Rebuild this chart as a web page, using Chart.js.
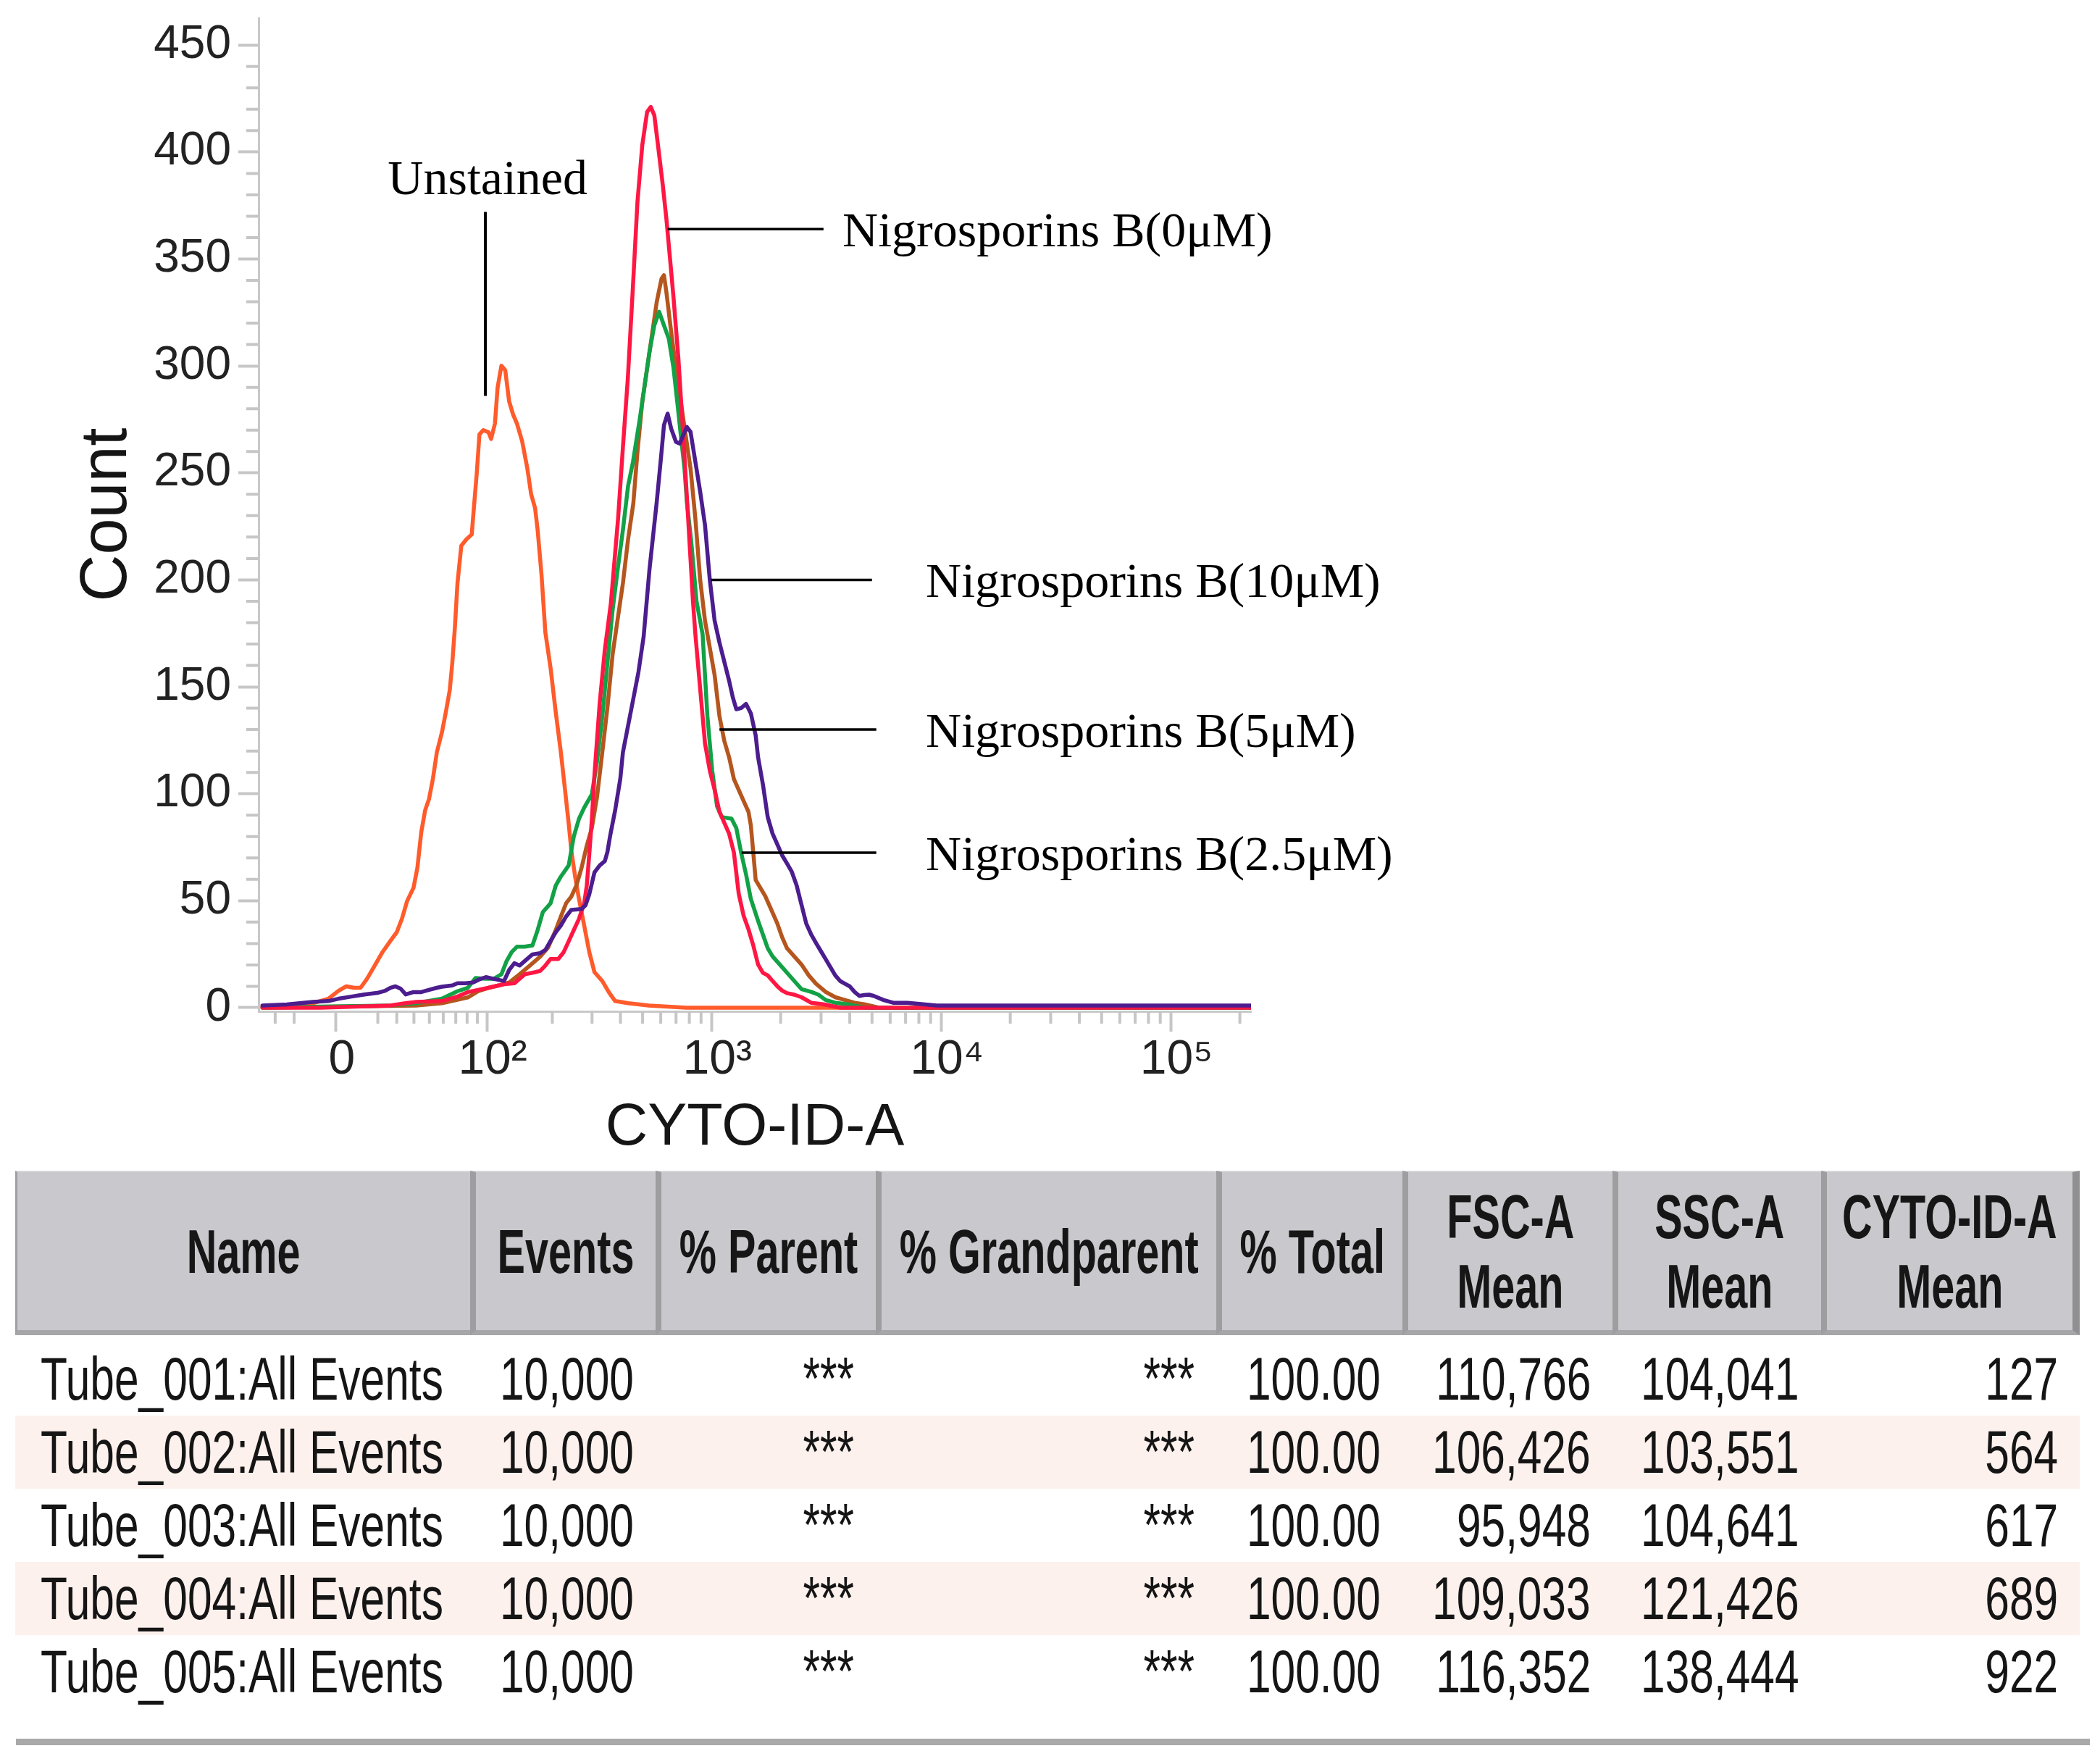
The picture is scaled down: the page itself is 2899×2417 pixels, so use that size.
<!DOCTYPE html>
<html>
<head>
<meta charset="utf-8">
<script src="https://cdn.jsdelivr.net/npm/chart.js@4.4.1/dist/chart.umd.min.js"></script>
<style>
html,body{margin:0;padding:0;background:#fff;}
body{width:2899px;height:2417px;position:relative;overflow:hidden;font-family:'Liberation Sans',Arial,sans-serif;}
#chartBox{position:absolute;left:0;top:0;width:2899px;height:1620px;}
#tbl{position:absolute;left:21px;top:1616px;width:2850px;display:grid;
  grid-template-columns:628px 256px 304px 470px 257px 290px 288px 357px;}
.h{background:#c9c8cc;height:227px;box-sizing:border-box;border-left:8px solid #9e9ea0;
  border-top:2px solid #d6d6d8;border-bottom:7px solid #a6a6a8;display:flex;flex-direction:column;
  align-items:center;justify-content:center;font-weight:bold;font-size:86px;line-height:96px;
  color:#161616;white-space:nowrap;overflow:visible;}
.h.first{border-left:3px solid #a0a0a2;}
.h.last{border-right:10px solid #909092;}
.h span{display:block;transform:scaleX(0.67);transform-origin:center center;}
.gap{grid-column:1 / -1;height:10px;}
.c{height:101px;box-sizing:border-box;display:flex;align-items:center;justify-content:flex-end;
  padding-right:30px;font-size:84px;color:#151515;white-space:nowrap;overflow:visible;}
.c span{display:block;transform:scaleX(0.72);transform-origin:right center;}
.c.name{justify-content:flex-start;padding-left:35px;padding-right:0;}
.c.name span{transform-origin:left center;}
.c.alt{background:#fdf1ed;}
#bottomLine{position:absolute;left:22px;top:2400px;width:2863px;height:9px;background:#a9a9a9;}
</style>
</head>
<body>
<div id="chartBox"><canvas id="c" width="2899" height="1620" style="width:2899px;height:1620px"></canvas></div>
<div id="tbl"></div>
<div id="bottomLine"></div>
<script>
// ---------- chart data (x in histogram channels, y in counts) ----------
const unstainedCh = [0,30,52.2,68.3,79,87,95.1,101.8,108.5,116.5,124.6,132.7,139.4,144.7,150.1,156.8,160.8,164.8,168.9,172.9,176.9,181,186.3,190.3,194.4,197,199.7,202.4,206.4,211.8,217.2,219.8,222.5,225.2,229.2,234.6,237.3,241.3,244,248,252,256,260.1,264.1,269.5,274.8,278.9,282.9,285.6,289.6,293.6,299,304.4,309.7,313.8,317.8,320.5,324.5,328.5,333.9,339.2,344.6,352.7,359.4,366,379.5,401,440,1026];
const unstainedCount = [0.5,1,2.1,4.2,7.9,10,9.3,9.3,13.5,19.7,26,31.2,35.3,41.5,49.8,56.1,65.4,82,92.4,97.6,107,119.4,128.8,138.1,148.5,161,177.6,198.4,216,219,221.2,235.7,250.3,268,270,269,265.9,273.1,289.7,300.1,298,283.5,277.3,273.1,264.8,252.4,239.9,233.7,223.3,202.5,175.5,158.9,138.1,119.4,102.8,86.2,73.7,61.3,50.9,38.4,26,16.6,12.5,7.3,3.1,2.1,1,0,0];

const dose0Ch = [0,60,132.7,148.7,159.5,186.3,202.4,213.1,223.9,234.6,250.7,261.4,266.8,272.2,282.9,288.3,293.6,299,307,312.4,317.8,323.1,328.5,333.9,336.6,339.2,341.9,344.6,347.3,350,355.3,361.6,369.1,374.1,379.2,384.2,389.2,394.2,399.2,403,406.7,410.5,415.5,419.2,423,426.7,431.7,436.7,441.8,446.8,449.3,451.8,454.3,456.8,459.3,464.3,469.3,474.3,479.3,484.3,489.3,494.3,499.3,504.4,509.4,514.4,519.4,524.4,529.4,534.4,539.4,544.4,551.9,559.4,569.5,582,600,1026];
const dose0Count = [0,0,1,2.1,2.7,3.1,5.2,7.3,8.3,9.3,11,11.4,13.5,15.6,16.6,17.2,19.7,22.8,22.8,25.8,31,36.3,41.5,48.8,57.1,71.7,88.3,109.1,125.7,142.3,167.2,189,228.7,262,294.1,334.6,376.7,403.2,418.7,421.1,417.2,403.2,384.5,368.9,350.2,331.5,303.4,267.6,228.7,190,174.6,161.8,149,136.3,123.5,110.8,101.8,91.6,86.5,81.4,72.5,53.3,43.1,36.7,29.1,20.2,16.3,15.1,12.5,10,8,6.8,6.1,4.9,2.3,1.6,0,0];

const dose25Ch = [0,60,132.7,159.5,186.3,202.4,213.1,221.2,231.9,240,248,253.4,258.7,264.1,272.2,280.2,285.6,291,299,304.4,309.7,317.8,323.1,328.5,333.9,341.9,347.3,352.7,358,363.4,368.7,374.1,379.5,384.5,391.7,396.7,401.7,406.7,411.7,416.7,421.7,426.7,430.5,434.2,438,440.5,445,450.5,456.8,459.3,461.8,464.3,466.8,471.8,476.8,486.8,491.8,496.8,501.9,506.9,514.4,519.4,524.4,529.4,539.4,549.4,559.4,569.5,577,584.5,594.5,607,625,1026];
const dose25Count = [0,0.5,1,2.1,4.2,7.7,9.3,13.9,13.5,13.5,15.6,21.8,26,28.5,28.5,29.1,36.3,44.7,48.8,57.1,61.3,66.5,80,88.3,93.5,99.8,115.3,136.1,161,185.9,205,223.3,244,255,275.4,291,306.6,319,325.3,319,312.8,298.8,283.2,267.6,252,236.4,218,190,174.6,155.4,136.3,123.5,110.8,94.2,89.1,88.4,84,72.5,62.3,50.8,40.6,34.2,27.8,24,18.9,13.8,8.7,7.4,6.1,3.6,2.3,1.6,0,0];

const dose5Ch = [0,80,159.5,186.3,213.1,223.9,234.6,245.3,256.1,266.8,277.5,288.3,296.3,304.4,309.7,315.1,320.5,325.8,331.2,336.6,341.9,347.3,352.7,358,363.4,368.7,374.1,379.5,384.9,389.2,394.2,399.2,404.2,409.2,414.2,416.7,419.2,424.2,429.2,434.2,439.2,444.3,449.3,454.3,459.3,464.3,469.3,474.3,479.3,484.3,489.3,494.3,499.3,504.4,506.9,509.4,511.9,516.9,521.9,526.9,534.4,539.4,544.4,551.9,559.4,567,574.5,584.5,594.5,604.5,614.5,624.5,640,1026];
const dose5Count = [0,0.5,1,2.1,4.8,7.7,9.3,10.4,11.8,15.6,19.7,23.9,28,36.3,42.6,48.8,51.9,57.1,65.4,75.8,84.1,98.7,119.4,140.2,165.1,181.7,198.4,219.1,235.7,259.8,283.2,298.8,314.3,329.9,340.8,342.4,334.6,315.9,298.8,283.2,267.6,252,228.7,200,180.9,168.2,155.4,136.3,124.8,117.1,106.9,101.8,96.7,91.6,85.2,72.5,59.7,55.9,52.1,47,39.3,32.9,27.8,24,20.2,15.1,11.2,7.4,4.9,3.6,2.3,1.6,0,0];

const dose10Ch = [0,25.3,52.2,68.3,79,92.4,105.8,119.2,127.3,132.7,138,143.4,148.7,156.8,164.8,172.9,181,186.3,197,202.4,210.5,218.5,226.6,231.9,240,250.7,256.1,261.4,266.8,272.2,280.2,288.3,293.6,299,304.4,309.7,315.1,320.5,331.2,335.2,339.2,344.6,350,355.3,358,360.7,366.1,371.4,374.1,379.5,384.9,390.2,395.6,401.7,409.2,414.2,416.7,420.5,424.2,429.2,433,436.7,440.5,444.3,449.3,454.3,459.3,464.3,469.3,474.3,479.3,484.3,488.1,491.8,496.8,501.9,506.9,511.9,514.4,519.4,524.4,529.4,534.4,539.4,544.4,549.4,554.4,559.4,564.4,569.5,574.5,579.5,584.5,589.5,594.5,599.5,604.5,609.5,614.5,619.5,624.5,629.5,634.5,644.6,654.6,669.6,700,1026];
const dose10Count = [1,1.5,2.7,3.1,4.2,5.2,6.2,6.9,7.9,9.3,10,8.9,6.2,7.3,7.3,8.3,9.3,9.8,10.4,11.4,11.4,11.8,13.5,14.3,13.5,12.5,17.7,20.8,19.7,21.8,24.9,25.5,27,31.2,35.3,38.4,42.6,45.7,46.1,47.8,53,63.3,66.5,68.5,72.7,80,92.4,107,119.4,131.9,144.4,156.8,173.4,205,236.4,259.8,272.3,277.7,270.7,264.5,263.7,267.6,271.5,269.2,255.2,241.2,225.6,200,180.9,170.7,161.8,152.9,145.2,139.5,140.1,142,137.6,127.3,117.1,104.4,89.1,81.4,76.3,71.2,67.4,63.5,57.2,48.2,39.3,34.2,30.3,26.5,22.7,18.9,15.1,12.5,11.2,10,7.4,5.5,5.9,6.1,5.5,3.6,2.3,2.3,1,1];

// axis ticks (CYTO-ID-A intensity values, biexponential display)
const xTickValues = [0, 100, 1000, 10000, 100000];
const xTickLabels = ['0', '10²', '10³', '10⁴', '10⁵'];
const xMinorValues = [-30,-20,20,30,40,50,60,70,80,90,200,300,400,500,600,700,800,900,2000,3000,4000,5000,6000,7000,8000,9000,20000,30000,40000,50000,60000,70000,80000,90000,200000];
const yTickValues = [0,50,100,150,200,250,300,350,400,450];
const yMinorValues = [10,20,30,40,60,70,80,90,110,120,130,140,160,170,180,190,210,220,230,240,260,270,280,290,310,320,330,340,360,370,380,390,410,420,430,440];

// annotations
const leaderLabels = ['Nigrosporins B(0μM)', 'Nigrosporins B(10μM)', 'Nigrosporins B(5μM)', 'Nigrosporins B(2.5μM)'];
const leaderStartCh = [420.5, 465.5, 474.3, 497.3];
const leaderEndCh = [582.3, 632.6, 637.1, 637.1];
const leaderTextCh = [602, 688.5, 688.5, 688.5];
const leaderCount = [364, 200, 130, 72.5];
const unstainedLabel = 'Unstained';
const unstainedLabelCh = 233.7;
const unstainedLabelCount = 380.4;
const unstainedLeaderCh = 231.4;
const unstainedLeaderCounts = [286, 372];

// table data
const headerLabels = [['Name'], ['Events'], ['% Parent'], ['% Grandparent'], ['% Total'], ['FSC-A', 'Mean'], ['SSC-A', 'Mean'], ['CYTO-ID-A', 'Mean']];
const tubeNames = ['Tube_001:All Events', 'Tube_002:All Events', 'Tube_003:All Events', 'Tube_004:All Events', 'Tube_005:All Events'];
const tubeEvents = ['10,000', '10,000', '10,000', '10,000', '10,000'];
const tubeParent = ['***', '***', '***', '***', '***'];
const tubeGrandparent = ['***', '***', '***', '***', '***'];
const tubeTotal = ['100.00', '100.00', '100.00', '100.00', '100.00'];
const fscMean = ['110,766', '106,426', '95,948', '109,033', '116,352'];
const sscMean = ['104,041', '103,551', '104,641', '121,426', '138,444'];
const cytoMean = ['127', '564', '617', '689', '922'];

// ---------- biexponential (arcsinh) channel transform ----------
const ZERO_CH = 76.3, A_CH = 103.5, C_W = 46.3;
function biex(v) { return ZERO_CH + A_CH * Math.asinh(v / C_W); }

const pts = (xs, ys) => xs.map((x, i) => ({x: x, y: ys[i]}));

const AXIS_FONT = "'Liberation Sans', Arial, sans-serif";
const TITLE_FONT = "'Liberation Sans', Arial, sans-serif";
const SERIF = "'Liberation Serif', 'Times New Roman', serif";

const decor = {
  id: 'decor',
  afterDraw(chart) {
    const {ctx, chartArea: a, scales: {x, y}} = chart;
    ctx.save();
    // minor ticks
    ctx.strokeStyle = '#c6c6c6';
    ctx.lineWidth = 4;
    ctx.beginPath();
    xMinorValues.forEach(v => {
      const px = x.getPixelForValue(biex(v));
      ctx.moveTo(px, a.bottom); ctx.lineTo(px, a.bottom + 17);
    });
    yMinorValues.forEach(v => {
      const py = y.getPixelForValue(v);
      ctx.moveTo(a.left, py); ctx.lineTo(a.left - 17, py);
    });
    ctx.stroke();
    // leader lines
    ctx.strokeStyle = '#000';
    ctx.lineWidth = 3.5;
    ctx.beginPath();
    leaderLabels.forEach((t, i) => {
      const py = y.getPixelForValue(leaderCount[i]);
      ctx.moveTo(x.getPixelForValue(leaderStartCh[i]), py);
      ctx.lineTo(x.getPixelForValue(leaderEndCh[i]), py);
    });
    ctx.stroke();
    ctx.lineWidth = 4;
    ctx.beginPath();
    const ux = x.getPixelForValue(unstainedLeaderCh);
    ctx.moveTo(ux, y.getPixelForValue(unstainedLeaderCounts[0]));
    ctx.lineTo(ux, y.getPixelForValue(unstainedLeaderCounts[1]));
    ctx.stroke();
    // labels
    ctx.fillStyle = '#000';
    ctx.font = '68px ' + SERIF;
    ctx.textBaseline = 'alphabetic';
    ctx.textAlign = 'left';
    leaderLabels.forEach((t, i) => {
      ctx.fillText(t, x.getPixelForValue(leaderTextCh[i]), y.getPixelForValue(leaderCount[i]) + 24);
    });
    ctx.textAlign = 'center';
    ctx.fillText(unstainedLabel, x.getPixelForValue(unstainedLabelCh), y.getPixelForValue(unstainedLabelCount));
    ctx.restore();
  }
};

const lineDs = (label, xs, ys, color, order) => ({
  label: label, data: pts(xs, ys), borderColor: color, backgroundColor: color,
  borderWidth: 5.5, pointRadius: 0, tension: 0, fill: false, order: order
});

new Chart(document.getElementById('c'), {
  type: 'line',
  data: {
    datasets: [
      lineDs('Nigrosporins B(10μM)', dose10Ch, dose10Count, '#4B1D8E', 0),
      lineDs('Nigrosporins B(0μM)', dose0Ch, dose0Count, '#FF1744', 1),
      lineDs('Nigrosporins B(2.5μM)', dose25Ch, dose25Count, '#12A146', 2),
      lineDs('Nigrosporins B(5μM)', dose5Ch, dose5Count, '#B5561E', 3),
      lineDs('Unstained', unstainedCh, unstainedCount, '#FF5B2B', 4)
    ]
  },
  options: {
    responsive: false,
    devicePixelRatio: 1,
    animation: false,
    layout: {padding: {left: 0, top: 25, right: 1172, bottom: 0}},
    plugins: {legend: {display: false}, tooltip: {enabled: false}},
    elements: {line: {borderJoinStyle: 'round', borderCapStyle: 'round'}},
    scales: {
      x: {
        type: 'linear', min: -4, max: 1026,
        afterBuildTicks(s) { s.ticks = xTickValues.map(v => ({value: biex(v)})); },
        afterFit(s) { s.height = 224; s.paddingLeft = 0; s.paddingRight = 0; },
        ticks: {
          autoSkip: false, maxRotation: 0, minRotation: 0, padding: 0, color: '#222',
          labelOffset: 8,
          font: {family: AXIS_FONT, size: 66, lineHeight: 1.2},
          callback: (v, i) => xTickLabels[i]
        },
        grid: {drawOnChartArea: false, drawTicks: true, tickLength: 28, tickWidth: 4, tickColor: '#c6c6c6'},
        border: {display: true, color: '#c8c8c8', width: 3},
        title: {display: true, text: 'CYTO-ID-A', color: '#151515',
          font: {family: TITLE_FONT, size: 81, lineHeight: 1.2}, padding: {top: 0, bottom: 14}}
      },
      y: {
        type: 'linear', min: -1.7, max: 462.6,
        afterBuildTicks(s) { s.ticks = yTickValues.map(v => ({value: v})); },
        afterFit(s) { s.width = 357; s.paddingTop = 0; s.paddingBottom = 0; },
        ticks: {
          padding: 10, color: '#222',
          font: {family: AXIS_FONT, size: 64, lineHeight: 1.2},
          callback: v => String(v)
        },
        grid: {drawOnChartArea: false, drawTicks: true, tickLength: 28, tickWidth: 4, tickColor: '#c6c6c6'},
        border: {display: true, color: '#c8c8c8', width: 3},
        title: {display: true, text: 'Count', color: '#151515',
          font: {family: TITLE_FONT, size: 90, lineHeight: 1.2}, padding: {top: 95, bottom: 0}}
      }
    }
  },
  plugins: [decor]
});

// ---------- table ----------
const tbl = document.getElementById('tbl');
function cell(cls, lines) {
  const d = document.createElement('div');
  d.className = cls;
  lines.forEach(t => { const s = document.createElement('span'); s.textContent = t; d.appendChild(s); });
  tbl.appendChild(d);
}
headerLabels.forEach((lines, i) => {
  let cls = 'h';
  if (i === 0) cls += ' first';
  if (i === headerLabels.length - 1) cls += ' last';
  cell(cls, lines);
});
const gap = document.createElement('div'); gap.className = 'gap'; tbl.appendChild(gap);
tubeNames.forEach((n, r) => {
  const alt = (r % 2 === 1) ? ' alt' : '';
  cell('c name' + alt, [n]);
  [tubeEvents, tubeParent, tubeGrandparent, tubeTotal, fscMean, sscMean, cytoMean].forEach(col => cell('c' + alt, [col[r]]));
});
</script>
</body>
</html>
